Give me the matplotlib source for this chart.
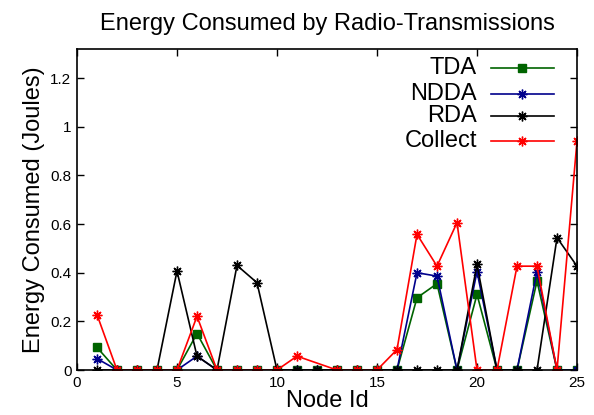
import numpy as np
import matplotlib
matplotlib.use("Agg")
import matplotlib.pyplot as plt

plt.rcParams['font.family'] = ['Liberation Sans', 'DejaVu Sans']

# ------------------------------------------------------------------------------
# Datos
# ------------------------------------------------------------------------------
nodos = list(range(1, 26))
tda = [0.093, 0, 0, 0, 0, 0.150, 0, 0, 0, 0, 0, 0, 0, 0, 0, 0,
       0.297, 0.355, 0, 0.311, 0, 0, 0.366, 0, 0]
ndda = [0.047, 0, 0, 0, 0, 0.057, 0, 0, 0, 0, 0, 0, 0, 0, 0, 0,
        0.400, 0.386, 0, 0.405, 0, 0, 0.405, 0, 0]
rda = [0, 0, 0, 0, 0.407, 0.057, 0, 0.430, 0.359, 0, 0, 0, 0, 0, 0, 0,
       0, 0, 0, 0.434, 0, 0, 0, 0.544, 0.427]
# Collect no tiene el nodo 12
nodos_collect = [1, 2, 3, 4, 5, 6, 7, 8, 9, 10, 11, 13, 14, 15, 16, 17,
                 18, 19, 20, 21, 22, 23, 24, 25]
collect = [0.228, 0, 0, 0, 0, 0.221, 0, 0, 0, 0, 0.057, 0, 0, 0, 0.084, 0.558,
           0.427, 0.606, 0, 0, 0.427, 0.427, 0, 0.942]

series = [
    ('TDA', nodos, tda, '#006400', 's', 5.5),
    ('NDDA', nodos, ndda, '#00008b', (8, 2, 0), 7),
    ('RDA', nodos, rda, 'black', (8, 2, 0), 7),
    ('Collect', nodos_collect, collect, '#ff0000', (8, 2, 0), 7),
]

# ------------------------------------------------------------------------------
# Grafico
# ------------------------------------------------------------------------------
fig = plt.figure(figsize=(5.94, 4.15), dpi=100)
ax = fig.add_axes([0.1296, 0.1084, 0.8418, 0.7736])

for nombre, x, y, color, marca, ms in series:
    ax.plot(x, y, '-', color=color, marker=marca, markersize=ms,
            markeredgewidth=1.0, lw=1.2, clip_on=True)

ax.set_xlim(0, 25)
ax.set_ylim(0, 1.32)
ax.set_xticks([0, 5, 10, 15, 20, 25])
ax.set_yticks([0, 0.2, 0.4, 0.6, 0.8, 1.0, 1.2])
ax.set_yticklabels(['0', '0.2', '0.4', '0.6', '0.8', '1', '1.2'])
ax.tick_params(direction='in', top=True, right=True, length=5, width=1,
               labelsize=11, pad=4)
for s in ax.spines.values():
    s.set_linewidth(1.2)

ax.set_title('Energy Consumed by Radio-Transmissions', fontsize=17, pad=14)
ax.set_ylabel('Energy Consumed (Joules)', fontsize=17, labelpad=4)
ax.set_xlabel('Node Id', fontsize=17, labelpad=0)

# Leyenda estilo gnuplot: texto alineado a la derecha, muestra a la derecha
y_leg = [0.941, 0.861, 0.790, 0.713]
for (nombre, x, y, color, marca, ms), yl in zip(series, y_leg):
    ax.text(0.800, yl, nombre, transform=ax.transAxes, ha='right',
            va='center', fontsize=17)
    ax.plot([0.828, 0.953], [yl, yl], '-', color=color, lw=1.2,
            transform=ax.transAxes, clip_on=False)
    ax.plot([0.890], [yl], color=color, marker=marca, markersize=ms,
            markeredgewidth=1.0, transform=ax.transAxes, clip_on=False)

fig.savefig('out.png', dpi=100)
